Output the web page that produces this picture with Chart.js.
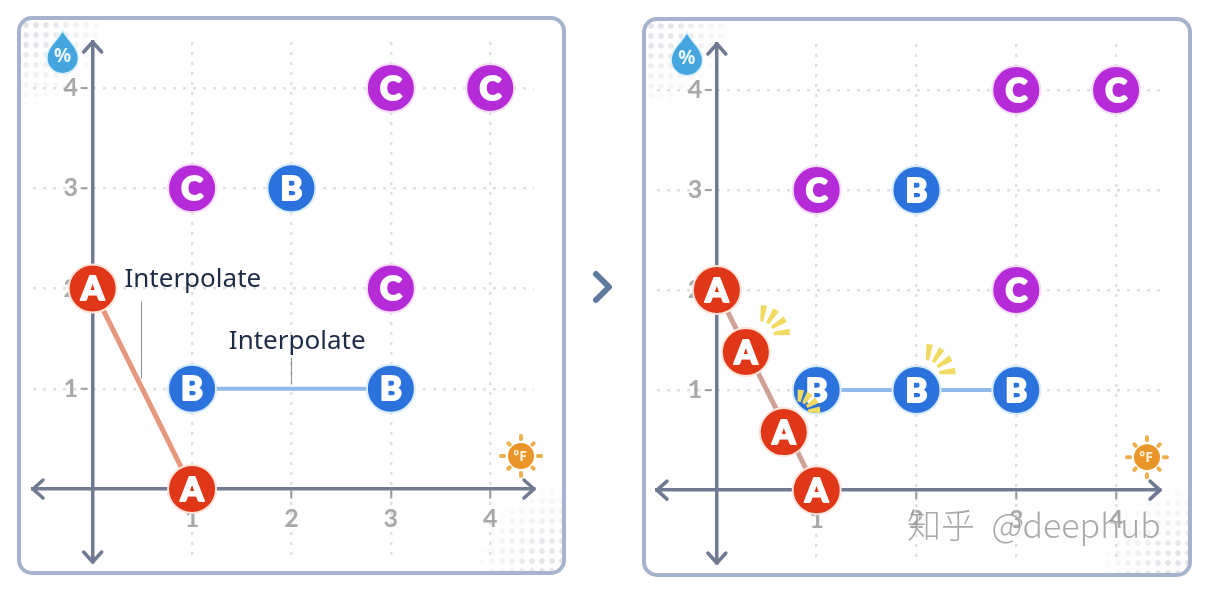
<!DOCTYPE html>
<html><head><meta charset="utf-8">
<script src="https://cdn.jsdelivr.net/npm/chart.js@4"></script>
<style>
html,body{margin:0;padding:0;background:#fff;width:1220px;height:589px;overflow:hidden}
.panel{position:absolute;box-sizing:border-box;border:4px solid #a5b3cf;border-radius:15px;background:#fefefe;overflow:hidden}
.dots{position:absolute;width:85px;height:85px;background-image:radial-gradient(circle,#e2e4ea 2.4px,transparent 3.2px);background-size:10px 10px;filter:blur(.6px)}
.tl{left:0;top:0;-webkit-mask-image:radial-gradient(circle at 0 0,#000 20%,transparent 75%);mask-image:radial-gradient(circle at 0 0,#000 20%,transparent 75%)}
.br{right:0;bottom:0;-webkit-mask-image:radial-gradient(circle at 100% 100%,#000 20%,transparent 75%);mask-image:radial-gradient(circle at 100% 100%,#000 20%,transparent 75%)}
canvas{position:absolute;top:0;filter:blur(.5px)}
svg{position:absolute;left:590px;top:268px}
</style></head><body>
<div class="panel" style="left:17px;top:16px;width:549px;height:559px"><div class="dots tl"></div><div class="dots br"></div></div>
<div class="panel" style="left:642px;top:17px;width:550px;height:560px"><div class="dots tl"></div><div class="dots br"></div></div>
<svg width="26" height="38"><polyline points="6,6 19,19 6,32" fill="none" stroke="#5f7b9e" stroke-width="6" stroke-linecap="round" stroke-linejoin="round"/></svg>
<canvas id="left" width="620" height="589" style="left:0;width:620px;height:589px"></canvas>
<canvas id="right" width="600" height="589" style="left:620px;width:600px;height:589px"></canvas>
<script>
// tick labels
const xTickValues = [1, 2, 3, 4];
const yTickValues = [1, 2, 3, 4];
// series, before interpolation
const leftA = [{x:0,y:2},{x:1,y:0}];
const leftB = [{x:1,y:1},{x:3,y:1},{x:2,y:3}];
const leftC = [{x:1,y:3},{x:3,y:2},{x:3,y:4},{x:4,y:4}];
const leftLineA = [{x:0,y:2},{x:1,y:0}];
const leftLineB = [{x:1,y:1},{x:3,y:1}];
// series, after interpolation
const rightA = [{x:0,y:2},{x:0.29,y:1.38},{x:0.67,y:0.58},{x:1,y:0}];
const rightB = [{x:1,y:1},{x:2,y:1},{x:3,y:1},{x:2,y:3}];
const rightC = [{x:1,y:3},{x:3,y:2},{x:3,y:4},{x:4,y:4}];
const rightLineA = [{x:0,y:2},{x:1,y:0}];
const rightLineB = [{x:1,y:1},{x:3,y:1}];
// interpolated points that carry a highlight
const rightNewA = [{x:0.29,y:1.38},{x:0.67,y:0.58}];
const rightNewB = [{x:2,y:1}];
const leftNotes = [
  {text:'Interpolate', x:0.32, y:2.09, fromY:1.87, toY:1.1, lineX:0.49},
  {text:'Interpolate', x:1.37, y:1.47, fromY:1.31, toY:1.05, lineX:2}
];

const AXIS = '#707a92', TICK = '#a8a8a8';
const RANGE = {xMin:-0.6, xMax:4.44, yMin:-0.728, yMax:4.459};
const COL = {
  A:{fill:'#e03718', halo:'#fde3d8', line:'#e8977f'},
  B:{fill:'#2b72dd', halo:'#d8ecfb', line:'#8fb9ea'},
  C:{fill:'#b52bd8', halo:'#f5dcf8'}
};

function pointSet(label, data, letter, order){
  const c = COL[letter];
  return {label, data, letter, order, showLine:false, pointRadius:24, pointHoverRadius:24,
    backgroundColor:c.fill, borderColor:c.halo, pointBorderWidth:2, clip:false};
}
function lineSet(label, data, color, width){
  return {label, data, showLine:true, pointRadius:0, borderColor:color, borderWidth:width, order:10};
}
function arrow(ctx, x, y, dx, dy){
  const L = 10, W = 9;
  ctx.beginPath();
  ctx.moveTo(x - dx*L + dy*W, y - dy*L + dx*W);
  ctx.lineTo(x, y);
  ctx.lineTo(x - dx*L - dy*W, y - dy*L - dx*W);
  ctx.stroke();
}
function droplet(ctx, x, y){
  ctx.save();
  ctx.beginPath();
  ctx.moveTo(x, y-20);
  ctx.bezierCurveTo(x+6, y-10, x+15, y-4, x+15, y+6);
  ctx.arc(x, y+6, 15, 0, Math.PI);
  ctx.bezierCurveTo(x-15, y-4, x-6, y-10, x, y-20);
  ctx.closePath();
  ctx.lineWidth = 3; ctx.strokeStyle = '#d9f1fb'; ctx.stroke();
  ctx.fillStyle = '#45a6df'; ctx.fill();
  ctx.fillStyle = '#eaf7fd'; ctx.font = '700 19px "Noto Sans"';
  ctx.textAlign = 'center'; ctx.textBaseline = 'middle';
  ctx.fillText('%', x, y+5);
  ctx.restore();
}
function sun(ctx, x, y){
  ctx.save();
  ctx.strokeStyle = '#eeb04e'; ctx.lineWidth = 4; ctx.lineCap = 'round';
  for (let i = 0; i < 8; i++){
    const a = i*Math.PI/4, r1 = i%2 ? 16 : 17, r2 = i%2 ? 18 : 20;
    ctx.beginPath();
    ctx.moveTo(x+Math.cos(a)*r1, y+Math.sin(a)*r1);
    ctx.lineTo(x+Math.cos(a)*r2, y+Math.sin(a)*r2);
    ctx.stroke();
  }
  ctx.beginPath(); ctx.arc(x, y, 13, 0, 2*Math.PI);
  ctx.fillStyle = '#ea952a'; ctx.fill();
  ctx.fillStyle = '#fff3dc'; ctx.font = '700 14px "Noto Sans"';
  ctx.textAlign = 'center'; ctx.textBaseline = 'middle';
  ctx.fillText('°F', x-1, y+1);
  ctx.restore();
}
function rays(ctx, px, py, dx, dy, k){
  const cx = px+dx, cy = py+dy;
  ctx.save();
  ctx.fillStyle = '#f1da62';
  [-82,-57,-32,-6].forEach(deg => {
    const a = deg*Math.PI/180, n = a+Math.PI/2;
    const r1 = 14*k, r2 = 30*k, w1 = 1.6, w2 = 3.2;
    ctx.beginPath();
    ctx.moveTo(cx+Math.cos(a)*r1+Math.cos(n)*w1, cy+Math.sin(a)*r1+Math.sin(n)*w1);
    ctx.lineTo(cx+Math.cos(a)*r2+Math.cos(n)*w2, cy+Math.sin(a)*r2+Math.sin(n)*w2);
    ctx.lineTo(cx+Math.cos(a)*r2-Math.cos(n)*w2, cy+Math.sin(a)*r2-Math.sin(n)*w2);
    ctx.lineTo(cx+Math.cos(a)*r1-Math.cos(n)*w1, cy+Math.sin(a)*r1-Math.sin(n)*w1);
    ctx.closePath(); ctx.fill();
  });
  ctx.restore();
}

const decorations = {
  id:'decorations',
  beforeDatasetsDraw(chart){
    const {ctx, chartArea:a, scales:{x, y}} = chart;
    const x0 = x.getPixelForValue(0), y0 = y.getPixelForValue(0);
    ctx.save();
    ctx.strokeStyle = AXIS; ctx.lineWidth = 3.5; ctx.lineCap = 'round'; ctx.lineJoin = 'round';
    arrow(ctx, a.left, y0, -1, 0); arrow(ctx, a.right, y0, 1, 0);
    arrow(ctx, x0, a.top, 0, -1); arrow(ctx, x0, a.bottom, 0, 1);
    // vertical-axis tick marks and labels sit on the left of the axis line
    ctx.font = '700 25px Lato'; ctx.textAlign = 'center'; ctx.textBaseline = 'middle';
    y.ticks.forEach(t => {
      const py = y.getPixelForValue(t.value);
      ctx.strokeStyle = '#a0a0a0'; ctx.lineWidth = 2; ctx.lineCap = 'butt';
      ctx.beginPath(); ctx.moveTo(x0-12, py); ctx.lineTo(x0-5, py); ctx.stroke();
      ctx.fillStyle = TICK;
      ctx.fillText(String(t.value), x0-22, py);
    });
    ctx.restore();
    droplet(ctx, x0-30, a.top+10);
    sun(ctx, a.right-13, y0-33);
  },
  afterDatasetsDraw(chart, args, opts){
    const {ctx, scales:{x, y}} = chart;
    chart.data.datasets.forEach((ds, i) => {
      if (!ds.letter) return;
      chart.getDatasetMeta(i).data.forEach(el => {
        ctx.save();
        ctx.font = '900 33px Lato';
        ctx.textAlign = 'center'; ctx.textBaseline = 'middle';
        ctx.fillStyle = '#fff'; ctx.strokeStyle = '#fff'; ctx.lineWidth = 2; ctx.lineJoin = 'round';
        ctx.strokeText(ds.letter, el.x, el.y+1);
        ctx.fillText(ds.letter, el.x, el.y+1);
        ctx.restore();
      });
    });
    (opts.highlights||[]).forEach(h => rays(ctx, x.getPixelForValue(h.x), y.getPixelForValue(h.y), h.dx, h.dy, h.k));
    (opts.notes||[]).forEach(n => {
      ctx.save();
      ctx.strokeStyle = '#8a8f9c'; ctx.lineWidth = 1;
      const lx = Math.round(x.getPixelForValue(n.lineX))+.5;
      ctx.beginPath(); ctx.moveTo(lx, y.getPixelForValue(n.fromY)); ctx.lineTo(lx, y.getPixelForValue(n.toY)); ctx.stroke();
      ctx.fillStyle = '#1d2b45'; ctx.font = '26px "Noto Sans"';
      ctx.textAlign = 'left'; ctx.textBaseline = 'middle';
      ctx.fillText(n.text, x.getPixelForValue(n.x), y.getPixelForValue(n.y));
      ctx.restore();
    });
    if (opts.watermark){
      ctx.save();
      ctx.font = '300 34px "Noto Sans CJK SC"';
      ctx.wordSpacing = '9px';
      ctx.textAlign = 'left'; ctx.textBaseline = 'middle';
      ctx.fillStyle = 'rgba(255,255,255,.75)';
      ctx.fillText(opts.watermark, 288, 526);
      ctx.fillStyle = 'rgba(140,140,140,.75)';
      ctx.fillText(opts.watermark, 287, 525);
      ctx.restore();
    }
  }
};

function makeChart(id, datasets, padding, pluginOpts){
  const shared = {
    type:'linear',
    border:{display:true, color:AXIS, width:3.5, dash:[3,7]},
    grid:{color:'#dfdfdf', lineWidth:2.5, tickColor:'#9a9a9a', tickWidth:2, tickLength:8, drawOnChartArea:true},
    ticks:{color:TICK, font:{family:'Lato', size:25, weight:'700'}, padding:2, maxRotation:0, autoSkip:false}
  };
  new Chart(document.getElementById(id), {
    type:'scatter',
    data:{datasets},
    plugins:[decorations],
    options:{
      responsive:false, animation:false, events:[],
      layout:{padding},
      plugins:{legend:{display:false}, tooltip:{enabled:false}, title:{display:false}, decorations:pluginOpts},
      scales:{
        x:{...shared, position:{y:0}, min:RANGE.xMin, max:RANGE.xMax,
           afterBuildTicks:s=>{s.ticks = xTickValues.map(value=>({value}));},
           afterFit:s=>{s.height = 0;},
           ticks:{...shared.ticks, callback:v=>String(v), padding:7}},
        y:{...shared, position:{x:0}, min:RANGE.yMin, max:RANGE.yMax,
           afterBuildTicks:s=>{s.ticks = yTickValues.map(value=>({value}));},
           afterFit:s=>{s.width = 0;},
           grid:{...shared.grid, drawTicks:false},
           ticks:{...shared.ticks, display:false}}
      }
    }
  });
}

makeChart('left', [
  lineSet('A interpolation', leftLineA, COL.A.line, 5),
  lineSet('B interpolation', leftLineB, COL.B.line, 4),
  pointSet('A', leftA, 'A', 1),
  pointSet('B', leftB, 'B', 2),
  pointSet('C', leftC, 'C', 3)
], {left:33, right:86, top:42, bottom:27}, {notes:leftNotes});

makeChart('right', [
  lineSet('A interpolation', rightLineA, '#cfa096', 5),
  lineSet('B interpolation', rightLineB, COL.B.line, 4),
  pointSet('A', rightA, 'A', 1),
  pointSet('B', rightB, 'B', 2),
  pointSet('C', rightC, 'C', 3)
], {left:37, right:60, top:44, bottom:25}, {
  watermark:'知乎 @deephub',
  highlights:[
    {...rightNewA[0], dx:14, dy:-17, k:1},
    {...rightNewA[1], dx:14, dy:-20, k:0.75},
    {...rightNewB[0], dx:9, dy:-16, k:1}
  ]
});
</script>
</body></html>
